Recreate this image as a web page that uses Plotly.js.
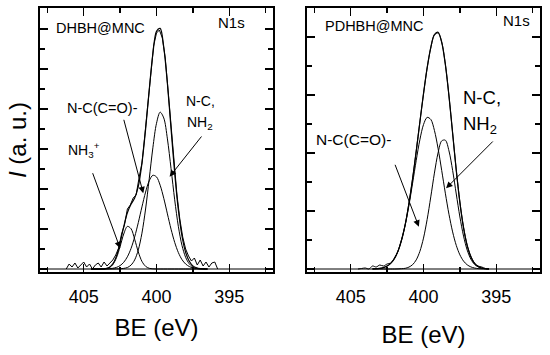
<!DOCTYPE html>
<html><head><meta charset="utf-8">
<script src="https://cdn.plot.ly/plotly-3.0.1.min.js"></script>
<style>html,body{margin:0;padding:0;background:#fff}#chart{width:550px;height:355px}</style>
</head><body><div id="chart"></div>
<script>
// ---------- Left panel: DHBH@MNC ----------
const beFitL = [404.5,404.25,404.0,403.75,403.5,403.25,403.0,402.75,402.5,402.25,402.0,401.75,401.5,401.25,401.0,400.75,400.5,400.25,400.0,399.75,399.5,399.25,399.0,398.75,398.5,398.25,398.0,397.75,397.5,397.25,397.0,396.75,396.5];
const nh3L   = [0,0,0,0.1,0.3,1.3,4.4,11.2,22.4,35.0,42.6,40.3,29.7,17.1,7.6,2.7,0.7,0.2,0,0,0,0,0,0,0,0,0,0,0,0,0,0,0];
const nccoL  = [0,0,0,0,0.1,0.3,0.7,1.6,3.4,6.7,12.2,20.5,32.1,46.4,62.1,76.9,88.2,93.7,92.1,83.8,70.7,55.1,39.8,26.6,16.5,9.4,5.0,2.5,1.1,0.5,0.2,0.1,0];
const ncnh2L = [0,0,0,0,0,0,0,0.1,0.2,0.6,1.5,3.9,9.1,19.1,35.8,60.0,90.1,121.2,145.7,156.8,151.0,130.1,100.3,69.2,42.7,23.6,11.7,5.2,2.0,0.7,0.2,0.1,0];
const envL   = [0,0,0,0.1,0.4,1.6,5.1,12.9,26.0,42.3,56.3,64.7,70.9,82.6,105.5,139.6,179.0,215.1,237.8,240.6,221.7,185.2,140.1,95.8,59.2,33.0,16.7,7.7,3.1,1.2,0.4,0.2,0];
const beRawL = [406.2,406.0,405.8,405.6,405.4,405.2,405.0,404.8,404.6,404.4,404.2,404.0,403.8,403.6,403.4,403.2,403.0,402.8,402.6,402.4,402.2,402.0,401.8,401.6,401.4,401.2,401.0,400.8,400.6,400.4,400.2,400.0,399.8,399.6,399.4,399.2,399.0,398.8,398.6,398.4,398.2,398.0,397.8,397.6,397.4,397.2,397.0,396.8,396.6,396.4,396.2,396.0,395.8];
const rawL   = [0,5,2,6,1,4,7,2,5,0,4,6,2,7,3,6,9,14,21,35,44,60,64,71,74,91,106,134,164,195,223,236,239,231,211,178,142,106,75,50,32,20,13,8,11,4,9,3,7,2,6,7,0];

// ---------- Right panel: PDHBH@MNC ----------
const beFitR = [403.5,403.25,403.0,402.75,402.5,402.25,402.0,401.75,401.5,401.25,401.0,400.75,400.5,400.25,400.0,399.75,399.5,399.25,399.0,398.75,398.5,398.25,398.0,397.75,397.5,397.25,397.0,396.75,396.5,396.25,396.0,395.75,395.5];
const nccoR  = [0.1,0.3,0.6,1.4,2.9,5.6,10.3,17.8,29.0,44.3,63.6,85.8,108.6,129.2,144.4,151.6,149.6,138.6,120.6,98.6,75.8,54.7,37.1,23.6,14.1,7.9,4.2,2.1,1.0,0.4,0.2,0.1,0];
const ncnh2R = [0,0,0,0,0,0,0,0.1,0.3,0.7,1.9,4.3,9.1,17.6,30.9,49.5,72.1,95.9,116.1,128.1,128.8,118.1,98.6,75.0,52.0,32.9,18.9,9.9,4.7,2.1,0.8,0.3,0.1];
const envR   = [0.1,0.3,0.6,1.4,2.9,5.6,10.3,17.9,29.3,45.0,65.5,90.1,117.7,146.8,175.3,201.1,221.7,234.5,236.7,226.7,204.6,172.8,135.7,98.6,66.1,40.8,23.1,12.0,5.7,2.5,1.0,0.4,0.1];
const beRawR = [404.5,404.25,404.0,403.75,403.5,403.25,403.0,402.75,402.5,402.25,402.0,401.75,401.5,401.25,401.0,400.75,400.5,400.25,400.0,399.75,399.5,399.25,399.0,398.75,398.5,398.25,398.0,397.75,397.5,397.25,397.0,396.75,396.5,396.25,396.0,395.75,395.5];
const rawR   = [0,0.5,1,0,3,2,4,3,5,6,11,18,30,45,66,90,118,147,175,201,221,234,236,227,205,173,136,99,67,42,24,13,6,3,2,0.5,0];

// baseline and ticks
const baseBE = [408, 392];
const baseI  = [0, 0];
const xTickVals = [405, 400, 395];
const xTickText = ['405', '400', '395'];
const xMinorVals = [407.5, 402.5, 397.5, 392.5];

const FONT = '"Liberation Sans", Arial, Helvetica, sans-serif';

function ln(x, y, xa, ya, w, spline) {
  return {x: x, y: y, xaxis: xa, yaxis: ya, type: 'scatter', mode: 'lines',
    line: {color: '#000', width: w, shape: spline ? 'spline' : 'linear', smoothing: 0.9},
    hoverinfo: 'skip', showlegend: false};
}

const traces = [
  ln(baseBE, baseI, 'x', 'y', 1, false),
  ln(beRawL, rawL, 'x', 'y', 1, false),
  ln(beFitL, envL, 'x', 'y', 1.2, true),
  ln(beFitL, nh3L, 'x', 'y', 1, true),
  ln(beFitL, nccoL, 'x', 'y', 1, true),
  ln(beFitL, ncnh2L, 'x', 'y', 1, true),
  ln(baseBE, baseI, 'x2', 'y2', 1, false),
  ln(beRawR, rawR, 'x2', 'y2', 1, true),
  ln(beFitR, envR, 'x2', 'y2', 1.2, true),
  ln(beFitR, nccoR, 'x2', 'y2', 1, true),
  ln(beFitR, ncnh2R, 'x2', 'y2', 1, true)
];

function xax(domain, anchor, standoff) {
  return {domain: domain, anchor: anchor, range: [408, 392], autorange: false,
    tickmode: 'array', tickvals: xTickVals, ticktext: xTickText,
    ticks: 'inside', ticklen: 8, tickwidth: 1.5, tickcolor: '#000',
    ticklabelstandoff: 7,
    showline: true, linewidth: 2, linecolor: '#000', mirror: 'allticks',
    showgrid: false, zeroline: false,
    tickfont: {family: FONT, size: 18, color: '#000'},
    minor: {tickmode: 'array', tickvals: xMinorVals, ticks: 'inside', ticklen: 5, tickwidth: 1.5, tickcolor: '#000', showgrid: false},
    title: {text: 'BE (eV)', font: {family: FONT, size: 24, color: '#000'}, standoff: standoff},
    automargin: false, fixedrange: true};
}
function yax(domain, anchor, dt, mdt, title) {
  const a = {domain: domain, anchor: anchor, range: [-3, 261], autorange: false,
    tick0: 0, dtick: dt, ticks: 'inside', ticklen: 8, tickwidth: 1.5, tickcolor: '#000',
    showticklabels: false,
    showline: true, linewidth: 2, linecolor: '#000', mirror: 'allticks',
    showgrid: false, zeroline: false,
    minor: {tick0: 0, dtick: mdt, ticks: 'inside', ticklen: 5, tickwidth: 1.5, tickcolor: '#000', showgrid: false},
    automargin: false, fixedrange: true};
  if (title) a.title = {text: title, font: {family: FONT, size: 24, color: '#000'}, standoff: 5};
  return a;
}

const yDom = [(355 - 272) / 355, (355 - 8) / 355];

function txt(xr, yr, x, y, t, size, anchor) {
  return {xref: xr, yref: yr, x: x, y: y, text: t, showarrow: false,
    xanchor: anchor || 'left', yanchor: 'middle',
    font: {family: FONT, size: size, color: '#000'}};
}
function arr(xr, yr, hx, hy, tx, ty) {
  return {xref: xr, yref: yr, axref: xr, ayref: yr, x: hx, y: hy, ax: tx, ay: ty,
    text: '', showarrow: true, arrowhead: 2, arrowsize: 1.3, arrowwidth: 1, arrowcolor: '#000'};
}

const annotations = [
  // left
  txt('x', 'y', 407.05, 241, 'DHBH@MNC', 14.5, 'left'),
  txt('x', 'y', 394.83, 246, 'N1s', 15, 'center'),
  txt('x', 'y', 403.74, 161, 'N-C(C=O)-', 14.5, 'center'),
  txt('x', 'y', 397.0, 168, 'N-C,', 14, 'center'),
  txt('x', 'y', 396.98, 146, 'NH<sub>2</sub>', 14, 'center'),
  txt('x', 'y', 406.24, 119, 'NH<sub>3</sub><sup>+</sup>', 14, 'left'),
  arr('x', 'y', 400.91, 75.7, 402.27, 150.7),
  arr('x', 'y', 399.1, 92.3, 396.83, 134),
  arr('x', 'y', 402.5, 20.7, 404.42, 97.3),
  // right
  txt('x2', 'y2', 406.9, 243, 'PDHBH@MNC', 14.5, 'left'),
  txt('x2', 'y2', 393.6, 248, 'N1s', 15, 'center'),
  txt('x2', 'y2', 397.42, 171, 'N-C,', 18.5, 'left'),
  txt('x2', 'y2', 397.42, 144, 'NH<sub>2</sub>', 18.5, 'left'),
  txt('x2', 'y2', 404.84, 130, 'N-C(C=O)-', 15.5, 'center'),
  arr('x2', 'y2', 400.32, 42.3, 401.99, 105.7),
  arr('x2', 'y2', 398.45, 80.7, 395.14, 129)
];

const layout = {
  width: 550, height: 355,
  margin: {l: 0, r: 0, t: 0, b: 0},
  paper_bgcolor: '#fff', plot_bgcolor: '#fff',
  showlegend: false,
  font: {family: FONT, color: '#000'},
  xaxis: xax([40 / 550, 273 / 550], 'y', 14),
  yaxis: yax(yDom, 'x', 40, 20, '<i>I</i> (a. u.)'),
  xaxis2: xax([307 / 550, 540 / 550], 'y2', 21),
  yaxis2: yax(yDom, 'x2', 58, 29, null),
  annotations: annotations
};

Plotly.newPlot('chart', traces, layout, {staticPlot: true, displayModeBar: false});
</script>
</body></html>
